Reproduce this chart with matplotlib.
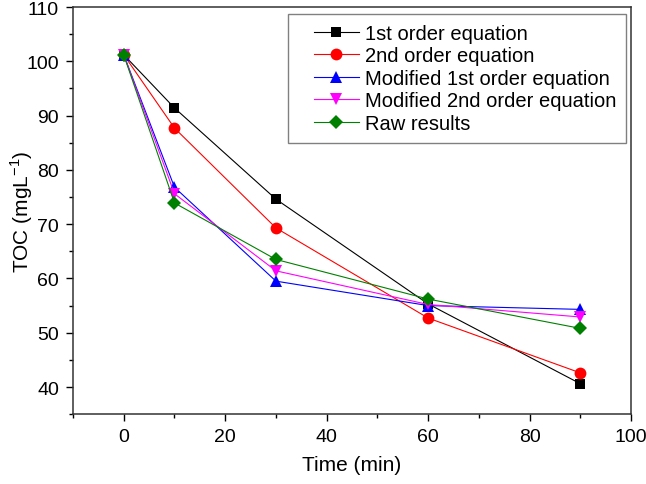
import numpy as np
import matplotlib
matplotlib.use('Agg')
import matplotlib.pyplot as plt
from matplotlib.ticker import MultipleLocator
from matplotlib.lines import Line2D
from matplotlib.legend_handler import HandlerLine2D

plt.rcParams['font.family'] = ['Liberation Sans', 'DejaVu Sans']

TIME = [0, 10, 30, 60, 90]
FIRST_ORDER = [101.2, 91.4, 74.6, 55.3, 40.6]
SECOND_ORDER = [101.2, 87.7, 69.3, 52.7, 42.6]
MOD_FIRST = [101.2, 76.8, 59.5, 55.0, 54.3]
MOD_SECOND = [101.2, 75.6, 61.4, 55.2, 52.9]
RAW = [101.2, 73.9, 63.5, 56.2, 50.8]

LABELS = ['1st order equation', '2nd order equation', 'Modified 1st order equation',
          'Modified 2nd order equation', 'Raw results']

series = [
    (FIRST_ORDER, 'black', 's', 7.5),
    (SECOND_ORDER, 'red', 'o', 8.5),
    (MOD_FIRST, 'blue', '^', 9),
    (MOD_SECOND, 'magenta', 'v', 9),
    (RAW, 'green', 'D', 7.5),
]

fig = plt.figure(figsize=(6.46, 4.85), dpi=100)
ax = fig.add_axes([0.113, 0.144, 0.864, 0.8395])

for (vals, color, marker, ms), label in zip(series, LABELS):
    ax.plot(TIME, vals, color=color, marker=marker, markersize=ms, lw=0.8,
            label=label, markeredgewidth=0)

ax.set_xlim(-10, 100)
ax.set_ylim(35, 110)
ax.xaxis.set_major_locator(MultipleLocator(20))
ax.xaxis.set_minor_locator(MultipleLocator(10))
ax.yaxis.set_major_locator(MultipleLocator(10))
ax.yaxis.set_minor_locator(MultipleLocator(5))
ax.tick_params(which='major', direction='out', length=5, width=1, labelsize=14, colors='black', pad=5)
ax.tick_params(which='minor', direction='out', length=3, width=1)
for s in ax.spines.values():
    s.set_linewidth(1.1)
    s.set_color('#333333')

ax.set_xlabel('Time (min)', fontsize=15)
ax.set_ylabel('TOC (mgL$^{\\mathregular{-1}}$)', fontsize=15)
ax.xaxis.set_label_coords(0.5, -0.1)
ax.yaxis.set_label_coords(-0.068, 0.5)

leg = ax.legend(loc='upper right', bbox_to_anchor=(0.991, 0.983), fontsize=14.5,
                fancybox=False, edgecolor='gray', framealpha=1, handlelength=3.0,
                borderpad=0.5, labelspacing=0.17, handletextpad=0.3, borderaxespad=0,
                handler_map={Line2D: HandlerLine2D(xpad=0.8)})
leg.get_frame().set_linewidth(1)

fig.savefig('out.png', dpi=100)
